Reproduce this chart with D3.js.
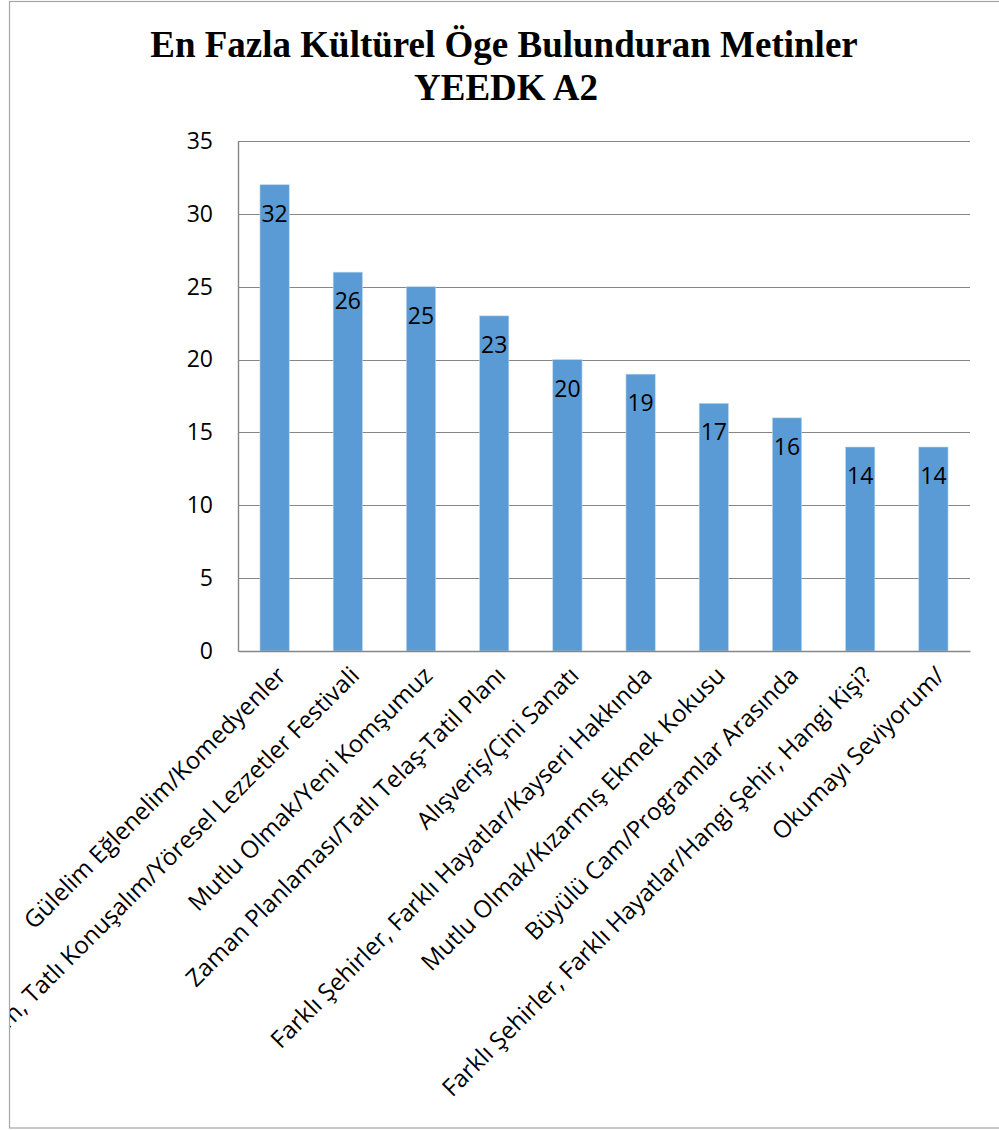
<!DOCTYPE html>
<html>
<head>
<meta charset="utf-8">
<script src="https://cdn.jsdelivr.net/npm/d3@7"></script>
<style>
  html, body { margin: 0; padding: 0; background: #fff; }
  svg { display: block; }
</style>
</head>
<body>
<script>
const categories = [
  "Gülelim Eğlenelim/Komedyenler",
  "m, Tatlı Konuşalım/Yöresel Lezzetler Festivali",
  "Mutlu Olmak/Yeni Komşumuz",
  "Zaman Planlaması/Tatlı Telaş-Tatil Planı",
  "Alışveriş/Çini Sanatı",
  "Farklı Şehirler, Farklı Hayatlar/Kayseri Hakkında",
  "Mutlu Olmak/Kızarmış Ekmek Kokusu",
  "Büyülü Cam/Programlar Arasında",
  "Farklı Şehirler, Farklı Hayatlar/Hangi Şehir,  Hangi Kişi?",
  "Okumayı Seviyorum/"
];
const values = [32, 26, 25, 23, 20, 19, 17, 16, 14, 14];
const yTicks = [0, 5, 10, 15, 20, 25, 30, 35];
const titleLines = ["En Fazla Kültürel Öge Bulunduran Metinler", "YEEDK A2"];

const W = 999, H = 1130;
const svg = d3.select("body").append("svg").attr("width", W).attr("height", H);

svg.append("rect").attr("x", 0).attr("y", 0).attr("width", W).attr("height", H).attr("fill", "#fff");

// outer chart border
svg.append("rect")
  .attr("x", 9.5).attr("y", 1.5).attr("width", 1000).attr("height", 1126.5)
  .attr("fill", "none").attr("stroke", "#a6a6a6").attr("stroke-width", 1.2);

svg.append("clipPath").attr("id", "chartClip")
  .append("rect").attr("x", 10).attr("y", 2).attr("width", 990).attr("height", 1125);

const plotLeft = 238, plotRight = 970, plotTop = 141, plotBottom = 651;

const x = d3.scaleBand().domain(categories).range([plotLeft, plotRight]).paddingInner(0.6).paddingOuter(0.3);
const y = d3.scaleLinear().domain([0, 35]).range([plotBottom, plotTop]);

// title
const title = svg.append("g").attr("font-family", "'Liberation Serif', 'Times New Roman', serif")
  .attr("font-weight", "bold").attr("font-size", 37).attr("fill", "#000").attr("text-anchor", "middle");
title.append("text").attr("x", 504).attr("y", 57).text(titleLines[0]);
title.append("text").attr("x", 506).attr("y", 100).text(titleLines[1]);

// gridlines
svg.append("g").selectAll("line").data(yTicks.filter(d => d > 0)).join("line")
  .attr("x1", plotLeft).attr("x2", plotRight)
  .attr("y1", d => Math.round(y(d)) + 0.5).attr("y2", d => Math.round(y(d)) + 0.5)
  .attr("stroke", "#868686").attr("stroke-width", 1);

// y axis
const yAxis = d3.axisLeft(y).tickValues(yTicks).tickSize(0).tickPadding(25);
const gy = svg.append("g").attr("transform", `translate(${plotLeft},0)`).call(yAxis);
gy.select(".domain").attr("stroke", "#868686").attr("stroke-width", 1.4);
gy.selectAll("text").attr("font-family", "'Open Sans', sans-serif").attr("font-size", 23).attr("fill", "#000");

// bars
svg.append("g").selectAll("rect").data(values).join("rect")
  .attr("x", (d, i) => x(categories[i]))
  .attr("y", d => y(d))
  .attr("width", x.bandwidth())
  .attr("height", d => y(0) - y(d))
  .attr("fill", "#5b9bd5")
  .attr("stroke", "#bdd7ee").attr("stroke-width", 0.6);

// x axis
const xAxis = d3.axisBottom(x).tickSize(0).tickFormat("");
const gx = svg.append("g").attr("transform", `translate(0,${plotBottom})`).call(xAxis);
gx.select(".domain").attr("stroke", "#868686").attr("stroke-width", 1.4);

// data labels
svg.append("g").selectAll("text").data(values).join("text")
  .attr("x", (d, i) => x(categories[i]) + x.bandwidth() / 2)
  .attr("y", d => y(d) + 37)
  .attr("text-anchor", "middle")
  .attr("font-family", "'Open Sans', sans-serif").attr("font-size", 23).attr("fill", "#000")
  .text(d => d);

// category labels
svg.append("g").attr("clip-path", "url(#chartClip)")
  .selectAll("text").data(categories).join("text")
  .attr("transform", d => `translate(${x(d) + x.bandwidth() / 2 + 7},${plotBottom + 20}) rotate(-45)`)
  .attr("text-anchor", "end")
  .attr("dy", "0.35em")
  .attr("font-family", "'Open Sans', sans-serif").attr("font-size", 24).attr("fill", "#000")
  .text(d => d);
</script>
</body>
</html>
